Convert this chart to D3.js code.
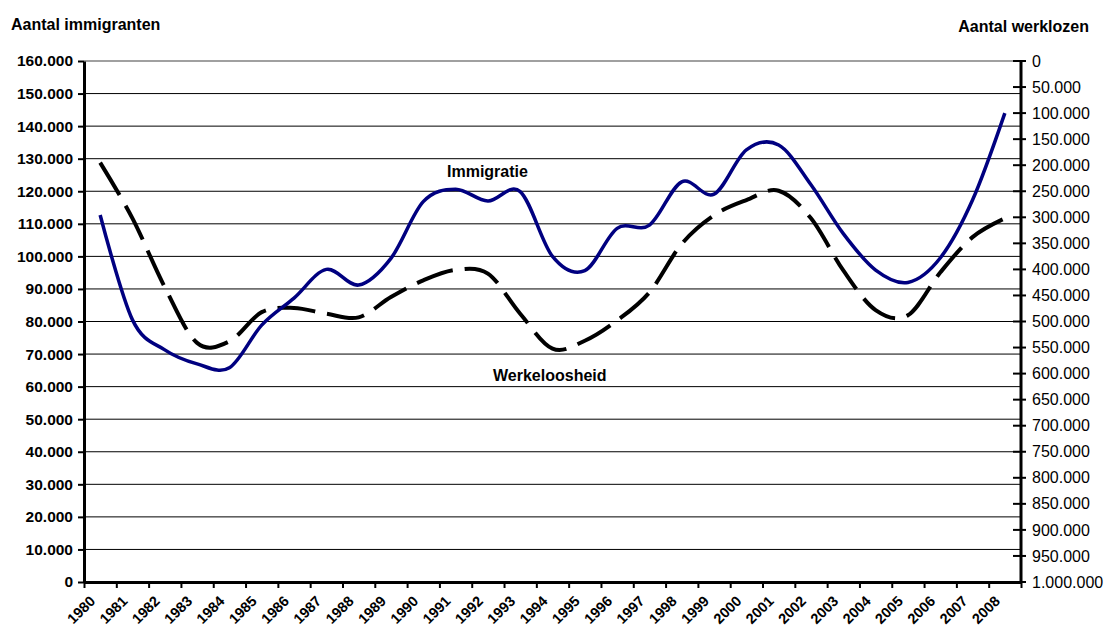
<!DOCTYPE html>
<html>
<head>
<meta charset="utf-8">
<script src="https://cdn.jsdelivr.net/npm/d3@7"></script>
<style>
  body { margin: 0; background: #fff; }
  text { font-family: Arial, 'Liberation Sans', sans-serif; fill: #000; }
</style>
</head>
<body>
<div id='chart'></div>

<script>
  var years = [1980, 1981, 1982, 1983, 1984, 1985, 1986, 1987, 1988, 1989,
               1990, 1991, 1992, 1993, 1994, 1995, 1996, 1997, 1998, 1999,
               2000, 2001, 2002, 2003, 2004, 2005, 2006, 2007, 2008]

  // left axis, number of immigrants
  var immigratie = [112700, 80500, 71300, 67000, 65800, 78900, 87200, 96000, 91200, 99400,
                    116800, 120600, 117000, 119900, 100000, 95600, 108600, 109600, 122900, 119100,
                    132700, 134200, 122000, 107000, 95800, 92000, 99500, 117300, 144000]

  // right axis (inverted), number of unemployed
  var werkloosheid = [195000, 302000, 434000, 541000, 538000, 482000, 474000, 485000, 492000, 453000,
                      421000, 401000, 408000, 485000, 552000, 537000, 498000, 444000, 351000, 296000,
                      267000, 249000, 302000, 402000, 478000, 488000, 406000, 338000, 302000]

  var leftTicks = [0, 10000, 20000, 30000, 40000, 50000, 60000, 70000, 80000,
                   90000, 100000, 110000, 120000, 130000, 140000, 150000, 160000]

  var rightTicks = [0, 50000, 100000, 150000, 200000, 250000, 300000, 350000, 400000, 450000,
                    500000, 550000, 600000, 650000, 700000, 750000, 800000, 850000, 900000,
                    950000, 1000000]

  var nl = d3.formatLocale({ decimal: ',', thousands: '.', grouping: [3], currency: ['€', ''] })
  var fmt = nl.format(',.0f')

  var pLeft = 84, pRight = 1021, pTop = 61, pBottom = 582

  var svg = d3.select('#chart')
              .append('svg')
              .attr('width', 1109)
              .attr('height', 628)

  var x = d3.scaleBand().domain(years).range([pLeft, pRight])
  var xEdge = d3.scaleLinear().domain([0, years.length]).range([pLeft, pRight])
  var yL = d3.scaleLinear().domain([0, 160000]).range([pBottom, pTop])
  var yR = d3.scaleLinear().domain([0, 1000000]).range([pTop, pBottom])

  function cx(i) {
    return x(years[i]) + x.bandwidth() / 2
  }

  // gridlines
  svg.append('g')
     .selectAll('line')
     .data(leftTicks.filter(function(d) { return d > 0 }))
     .enter()
     .append('line')
     .attr('x1', pLeft)
     .attr('x2', pRight)
     .attr('y1', function(d) { return yL(d) })
     .attr('y2', function(d) { return yL(d) })
     .attr('stroke', function(d) { return d === 160000 ? '#808080' : '#000' })
     .attr('stroke-width', function(d) { return d === 160000 ? 1.5 : 1 })

  // series
  var lineImm = d3.line()
                  .x(function(d, i) { return cx(i) })
                  .y(function(d) { return yL(d) })
                  .curve(d3.curveCatmullRom.alpha(0))

  var lineWerk = d3.line()
                   .x(function(d, i) { return cx(i) })
                   .y(function(d) { return yR(d) })
                   .curve(d3.curveCatmullRom.alpha(0))

  svg.append('path')
     .datum(werkloosheid)
     .attr('d', lineWerk)
     .attr('fill', 'none')
     .attr('stroke', '#000')
     .attr('stroke-width', 4)
     .attr('stroke-dasharray', '38,12')

  svg.append('path')
     .datum(immigratie)
     .attr('d', lineImm)
     .attr('fill', 'none')
     .attr('stroke', '#000080')
     .attr('stroke-width', 3.5)

  // left axis
  var axL = svg.append('g')
               .attr('transform', 'translate(' + pLeft + ',0)')
               .call(d3.axisLeft(yL).tickValues(leftTicks).tickFormat(fmt).tickSize(6).tickSizeOuter(0).tickPadding(5))
  axL.attr('font-family', null).attr('font-size', null)
  axL.select('.domain').attr('stroke-width', 3)
  axL.selectAll('.tick line').attr('stroke-width', 2)
  axL.selectAll('text').attr('font-size', 15.5).attr('font-weight', 'bold')

  // right axis with crossing ticks
  var axR = svg.append('g')
  axR.append('line')
     .attr('x1', pRight).attr('x2', pRight)
     .attr('y1', pTop).attr('y2', pBottom)
     .attr('stroke', '#000').attr('stroke-width', 3)
  axR.selectAll('line.tk')
     .data(rightTicks)
     .enter()
     .append('line')
     .attr('class', 'tk')
     .attr('x1', pRight - 8).attr('x2', pRight + 5)
     .attr('y1', function(d) { return yR(d) })
     .attr('y2', function(d) { return yR(d) })
     .attr('stroke', '#000').attr('stroke-width', 2)
  axR.selectAll('text')
     .data(rightTicks)
     .enter()
     .append('text')
     .attr('x', pRight + 11)
     .attr('y', function(d) { return yR(d) })
     .attr('dy', '0.35em')
     .attr('font-size', 16)
     .text(fmt)

  // bottom axis, ticks between categories
  var axB = svg.append('g')
               .attr('transform', 'translate(0,' + pBottom + ')')
               .call(d3.axisBottom(xEdge).tickValues(d3.range(years.length + 1)).tickFormat('').tickSize(6).tickSizeOuter(0))
  axB.select('.domain').attr('stroke-width', 3)
  axB.selectAll('.tick line').attr('stroke-width', 2)

  svg.append('g')
     .selectAll('text')
     .data(years)
     .enter()
     .append('text')
     .attr('transform', function(d, i) { return 'translate(' + (cx(i) - 4) + ',602) rotate(-45)' })
     .attr('text-anchor', 'end')
     .attr('font-size', 14.5)
     .attr('font-weight', 'bold')
     .text(function(d) { return d })

  // titles and labels
  svg.append('text')
     .attr('x', 11).attr('y', 30)
     .attr('font-size', 16).attr('font-weight', 'bold')
     .text('Aantal immigranten')

  svg.append('text')
     .attr('x', 1089).attr('y', 32)
     .attr('text-anchor', 'end')
     .attr('font-size', 16).attr('font-weight', 'bold')
     .text('Aantal werklozen')

  svg.append('text')
     .attr('x', 447).attr('y', 177)
     .attr('font-size', 16).attr('font-weight', 'bold')
     .text('Immigratie')

  svg.append('text')
     .attr('x', 493).attr('y', 381)
     .attr('font-size', 16).attr('font-weight', 'bold')
     .text('Werkeloosheid')
</script>
</body>
</html>
